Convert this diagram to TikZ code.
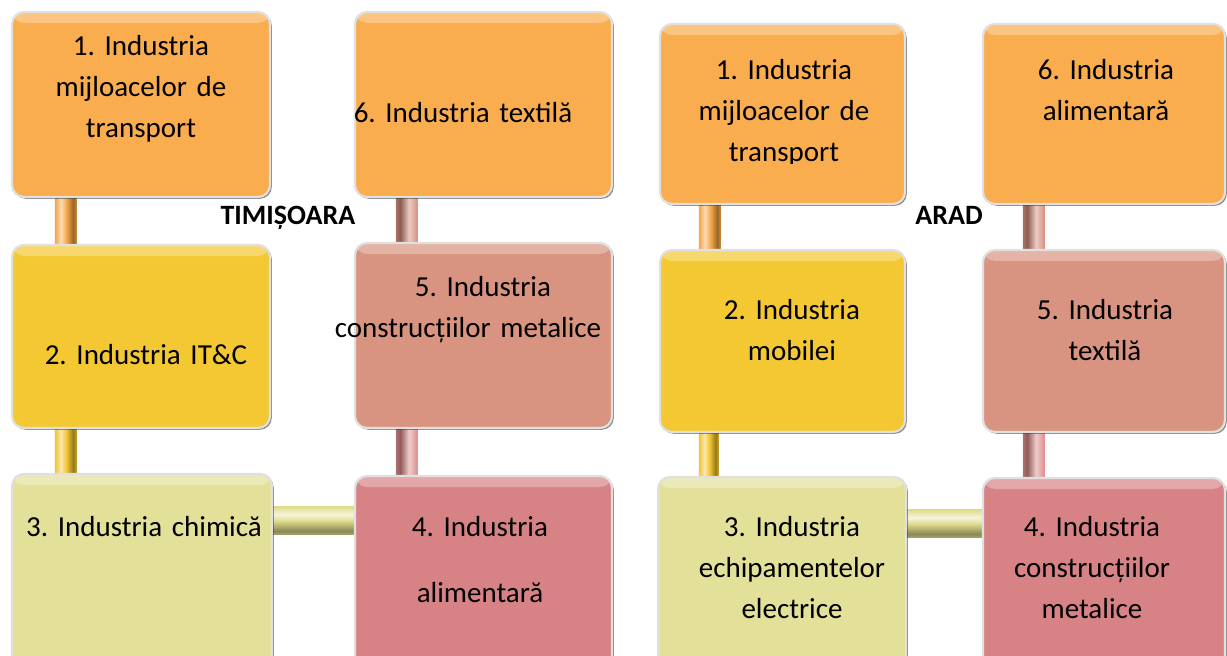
\documentclass[tikz,border=0pt]{standalone}
\usepackage{fontspec}
\setmainfont{Carlito}
\usetikzlibrary{shadows,calc}
\definecolor{cOrange}{RGB}{249,173,78}
\definecolor{cYellow}{RGB}{243,200,51}
\definecolor{cPale}{RGB}{227,224,154}
\definecolor{cSalmon}{RGB}{216,148,128}
\definecolor{cRose}{RGB}{215,131,134}
\definecolor{bOrange}{RGB}{245,165,70}
\definecolor{bYellow}{RGB}{242,196,48}
\definecolor{bSalmon}{RGB}{214,142,124}
\definecolor{bRose}{RGB}{222,140,140}
\definecolor{bPale}{RGB}{224,220,140}
\newcommand\mkvcylA[2]{\pgfdeclarehorizontalshading{#1}{100bp}{color(0bp)=(#2); color(25bp)=(#2); color(39bp)=(#2!40!white); color(52bp)=(#2); color(67bp)=(#2!62!black); color(75bp)=(#2!85!black); color(100bp)=(#2!85!black)}}
\newcommand\mkvcylB[2]{\pgfdeclarehorizontalshading{#1}{100bp}{color(0bp)=(#2!80!black); color(25bp)=(#2!80!black); color(35bp)=(#2!65!black); color(55bp)=(#2!45!white); color(75bp)=(#2); color(100bp)=(#2)}}
\newcommand\mkhcyl[2]{\pgfdeclareverticalshading{#1}{100bp}{color(0bp)=(#2!70!black); color(25bp)=(#2!75!black); color(32bp)=(#2!62!black); color(50bp)=(#2); color(61bp)=(#2!30!white); color(75bp)=(#2); color(100bp)=(#2)}}
\mkvcylA{shOrange}{bOrange}
\mkvcylA{shYellow}{bYellow}
\mkvcylB{shSalmon}{bSalmon}
\mkvcylB{shRose}{bRose}
\mkhcyl{shPale}{bPale}
\tikzset{
  tile/.style={rectangle, rounded corners=12pt, inner sep=0pt, draw=white!88!black,
    line width=2.2pt, fill=#1,
    drop shadow={shadow xshift=1.8pt, shadow yshift=-1.8pt, opacity=0.45, fill=black},
    path picture={\shade[top color=#1!70!white, bottom color=#1]
      (path picture bounding box.north west) rectangle ([yshift=-11pt]path picture bounding box.north east);}},
  lbl/.style={font=\fontsize{29}{41}\selectfont\frenchspacing, text width=330pt, align=center, anchor=base, inner sep=0pt},
  city/.style={font=\fontsize{28}{34}\selectfont\bfseries, anchor=base, inner sep=0pt},
}
\newcommand\vcyl[4]{%
  \shade[shading=#4]
    ($(#1.south west)+(#3-11,-4)$) rectangle ($(#2.north west)+(#3+11,4)$);}
\newcommand\hcyl[4]{%
  \shade[shading=#4]
    ($(#1.north east)+(-4,#3)$) rectangle ($(#2.west |- #1.north east)+(4,#3+28)$);}
\begin{document}
\begin{tikzpicture}[x=1pt,y=-1pt]
\clip (0,0) rectangle (1227,656);
\fill[white] (0,0) rectangle (1227,656);
% ---------- frames of the tiles (named first, so the bars can refer to them)
\path
  node[minimum width=258pt, minimum height=185pt, inner sep=0pt] (L1) at (141,104.5) {}
  node[minimum width=257pt, minimum height=185pt, inner sep=0pt] (L6) at (483.5,104.5) {}
  node[minimum width=258pt, minimum height=183pt, inner sep=0pt] (L2) at (141,336.5) {}
  node[minimum width=257pt, minimum height=185pt, inner sep=0pt] (L5) at (483.5,335.5) {}
  node[minimum width=260pt, minimum height=206pt, inner sep=0pt] (L3) at (142,577) {}
  node[minimum width=257pt, minimum height=204pt, inner sep=0pt] (L4) at (483.5,578) {}
  node[minimum width=245pt, minimum height=180pt, inner sep=0pt] (R1) at (782.5,114) {}
  node[minimum width=242pt, minimum height=180pt, inner sep=0pt] (R6) at (1104,114) {}
  node[minimum width=245pt, minimum height=182pt, inner sep=0pt] (R2) at (782.5,341) {}
  node[minimum width=242pt, minimum height=182pt, inner sep=0pt] (R5) at (1104,341) {}
  node[minimum width=248pt, minimum height=203pt, inner sep=0pt] (R3) at (782,578.5) {}
  node[minimum width=242pt, minimum height=202pt, inner sep=0pt] (R4) at (1104,579) {};
% ---------- connectors
\vcyl{L1}{L2}{54}{shOrange}
\vcyl{L2}{L3}{54}{shYellow}
\vcyl{L6}{L5}{52}{shSalmon}
\vcyl{L5}{L4}{52}{shRose}
\hcyl{L3}{L4}{33}{shPale}
\vcyl{R1}{R2}{50}{shOrange}
\vcyl{R2}{R3}{50}{shYellow}
\vcyl{R6}{R5}{51}{shSalmon}
\vcyl{R5}{R4}{51}{shRose}
\hcyl{R3}{R4}{33}{shPale}
% ---------- tiles
\node[tile=cOrange, minimum width=258pt, minimum height=185pt] (T1) at (L1) {};
\node[tile=cOrange, minimum width=257pt, minimum height=185pt] (T6) at (L6) {};
\node[tile=cYellow, minimum width=258pt, minimum height=183pt] (T2) at (L2) {};
\node[tile=cSalmon, minimum width=257pt, minimum height=185pt] (T5) at (L5) {};
\node[tile=cPale,   minimum width=260pt, minimum height=206pt] (T3) at (L3) {};
\node[tile=cRose,   minimum width=257pt, minimum height=204pt] (T4) at (L4) {};
\node[tile=cOrange, minimum width=245pt, minimum height=180pt] (U1) at (R1) {};
\node[tile=cOrange, minimum width=242pt, minimum height=180pt] (U6) at (R6) {};
\node[tile=cYellow, minimum width=245pt, minimum height=182pt] (U2) at (R2) {};
\node[tile=cSalmon, minimum width=242pt, minimum height=182pt] (U5) at (R5) {};
\node[tile=cPale,   minimum width=248pt, minimum height=203pt] (U3) at (R3) {};
\node[tile=cRose,   minimum width=242pt, minimum height=202pt] (U4) at (R4) {};
% ---------- texts, TIMISOARA
\node[lbl] (tL1) at (141,55) {1. Industria\\mijloacelor de\\transport};
\node[lbl] (tL6) at (463,122) {6. Industria textilă};
\node[lbl] (tL2) at (146,364) {2. Industria IT\&C};
\node[lbl] (tL5) at (468,296) {\hspace*{30pt}5. Industria\\construcțiilor metalice};
\node[lbl] (tL3) at (144,536) {3. Industria chimică};
\node[lbl] (tL4) at (480,536) {4. Industria\\[25pt]alimentară};
\node[city] (cityT) at (288,224) {TIMIȘOARA};
% ---------- texts, ARAD
\begin{scope}
  \clip (600,0) rectangle (950,163);
  \node[lbl] (tR1) at (784,79) {1. Industria\\mijloacelor de\\transport};
\end{scope}
\node[lbl] (tR6) at (1106,79) {6. Industria\\alimentară};
\node[lbl] (tR2) at (792,319) {2. Industria\\mobilei};
\node[lbl] (tR5) at (1105,319) {5. Industria\\textilă};
\node[lbl] (tR3) at (792,536) {3. Industria\\echipamentelor\\electrice};
\node[lbl] (tR4) at (1092,536) {4. Industria\\construcțiilor\\metalice};
\node[city] (cityA) at (949,224) {ARAD};
\end{tikzpicture}
\end{document}
